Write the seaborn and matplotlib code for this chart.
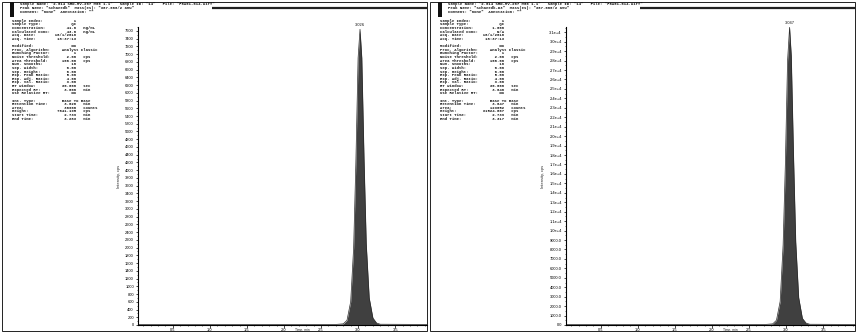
import matplotlib
matplotlib.use("Agg")
import matplotlib.pyplot as plt
import seaborn as sns
import pandas as pd
from matplotlib.ticker import MultipleLocator, FuncFormatter
from matplotlib.patches import Rectangle

# ---------------- data ----------------
time_left = [0.03, 2.70, 2.80, 2.85, 2.90, 2.94, 2.97, 3.00, 3.026, 3.05, 3.08, 3.11, 3.15, 3.20, 3.25, 3.30, 3.93]
intensity_left = [15, 15, 30, 120, 600, 2000, 4200, 6900, 7641, 6900, 4300, 2100, 700, 180, 50, 20, 15]

time_right = [0.03, 2.72, 2.82, 2.87, 2.92, 2.96, 2.99, 3.02, 3.047, 3.07, 3.10, 3.13, 3.17, 3.22, 3.27, 3.32, 3.93]
intensity_right = [60, 60, 120, 500, 2500, 8500, 17000, 28000, 31524, 28500, 18000, 8800, 2900, 700, 200, 80, 60]

peak_labels = ["3.026", "3.047"]

header_left = ['Sample Name: "2.014 SRD-MV-207 M00 1.1"   Sample ID: "14"   File: "F6A01-014.wiff"',
               'Peak Name: "Schaeedk"  Mass(es): "367.000/2 amu"',
               'Comment: "none"  Annotation: ""']
header_right = ['Sample Name: "2.014 SRD-MV-207 M00 1.1"   Sample ID: "14"   File: "F6A01-014.wiff"',
                'Peak Name: "Schaeedk-D3"  Mass(es): "367.000/2 amu"',
                'Comment: "none"  Annotation: ""']

info_labels = ["Sample Index:", "Sample Type:", "Concentration:", "Calculated Conc:", "Acq. Date:",
               "Acq. Time:", "", "Modified:", "Proc. Algorithm:", "Bunching Factor:", "Noise Threshold:",
               "Area Threshold:", "Num. Smooths:", "Sep. Width:", "Sep. Height:", "Exp. Peak Ratio:",
               "Exp. Adj. Ratio:", "Exp. Val. Ratio:", "RT Window:", "Expected RT:", "Use Relative RT:", "",
               "Int. Type:", "Retention Time:", "Area:", "Height:", "Start Time:", "End Time:"]
units_left = ["", "", "ng/mL", "ng/mL", "", "", "", "", "", "", "cps", "cps", "", "", "", "", "", "",
              "sec", "min", "", "", "", "min", "counts", "cps", "min", "min"]
units_right = ["", "", "", "", "", "", "", "", "", "", "cps", "cps", "", "", "", "", "", "",
               "sec", "min", "", "", "", "min", "counts", "cps", "min", "min"]
values_left = ["1", "QC", "41.0", "43.0", "16/1/2018", "18:37:13", "", "No", "Analyst Classic", "1",
               "2.00", "100.00", "10", "0.00", "0.00", "5.00", "4.00", "3.00", "30.000", "3.000", "No", "",
               "Base To Base", "3.026", "30900", "7641.195", "2.739", "3.283"]
values_right = ["1", "QC", "1.000", "N/A", "16/1/2018", "18:37:13", "", "No", "Analyst Classic", "1",
                "2.00", "100.00", "10", "0.00", "0.00", "5.00", "4.00", "3.00", "30.000", "3.040", "No", "",
                "Base To Base", "3.047", "123052", "31524.607", "2.739", "3.317"]

y_ticks_left = list(range(0, 7601, 200))
y_ticks_right = list(range(0, 31001, 1000))
x_ticks = [0.5, 1.0, 1.5, 2.0, 2.5, 3.0, 3.5]

# ---------------- figure ----------------
sns.set_theme(style="white")
plt.rcParams['font.family'] = ['Liberation Sans', 'DejaVu Sans']

W, H = 856, 332
fig = plt.figure(figsize=(W / 100, H / 100), dpi=100)
fig.patch.set_facecolor("white")

bg = fig.add_axes([0, 0, 1, 1])
bg.set_xlim(0, W)
bg.set_ylim(H, 0)
bg.axis("off")

MONO = ['Liberation Mono', 'DejaVu Sans Mono']
FS_TXT = 2.75
FS_TICK = 2.9


def info_line(label, value, unit):
    if not label:
        return ""
    if len(value) > 10:
        s = f"{label:<21}{value}"
    else:
        s = f"{label:<17}{value:>10}"
    if unit:
        s = f"{s:<30}{unit}"
    return s


def draw_panel(off, header, values, units):
    bg.add_patch(Rectangle((off + 2, 1.5), 425, 329, fill=False, lw=0.7, ec="#222222"))
    bg.plot([off + 212, off + 427], [7.5, 7.5], color="#222222", lw=1.6, solid_capstyle="butt")
    bg.add_patch(Rectangle((off + 10, 2), 4.5, 15, color="#111111", lw=0))
    for i, line in enumerate(header):
        bg.text(off + 20, 3.6 + i * 4.4, line, fontsize=FS_TXT, family=MONO, fontweight="bold",
                va="center", ha="left", color="#111111")
    for i, (lab, val, un) in enumerate(zip(info_labels, values, units)):
        s = info_line(lab, val, un)
        if s:
            bg.text(off + 12, 20.7 + i * 3.63, s, fontsize=FS_TXT, family=MONO, fontweight="bold",
                    va="center", ha="left", color="#111111")


draw_panel(0, header_left, values_left, units_left)
draw_panel(428, header_right, values_right, units_right)


def make_axes(x0, x1, ytop, ybot):
    return fig.add_axes([x0 / W, (H - ybot) / H, (x1 - x0) / W, (ybot - ytop) / H])


def style_axes(ax, yticks, ylim, yfmt, yminor):
    ax.set_facecolor("none")
    ax.set_xlim(0.03, 3.93)
    ax.set_ylim(*ylim)
    for s in ["top", "right"]:
        ax.spines[s].set_visible(False)
    for s in ["left", "bottom"]:
        ax.spines[s].set_color("black")
        ax.spines[s].set_linewidth(0.8)
    ax.set_xticks(x_ticks)
    ax.set_xticklabels([f"{v:.1f}" for v in x_ticks])
    ax.xaxis.set_minor_locator(MultipleLocator(0.1))
    ax.set_yticks(yticks)
    ax.yaxis.set_major_formatter(FuncFormatter(yfmt))
    ax.yaxis.set_minor_locator(MultipleLocator(yminor))
    ax.tick_params(axis="both", which="major", direction="out", length=1.8, width=0.5,
                   pad=1.2, labelsize=FS_TICK, colors="black")
    ax.tick_params(axis="x", which="major", pad=0.6)
    ax.tick_params(axis="both", which="minor", direction="out", length=1.0, width=0.4, colors="black")
    ax.tick_params(axis="both", which="both", bottom=True, left=True)
    ax.set_xlabel("Time, min", fontsize=2.4, va="bottom")
    ax.xaxis.set_label_coords(0.57, -6.8 / 298)
    ax.set_ylabel("Intensity, cps", fontsize=FS_TICK, labelpad=3)
    ax.grid(False)


def fmt_left(v, pos):
    return f"{int(round(v))}"


def fmt_right(v, pos):
    if v >= 10000:
        return f"{v / 1e4:.1f}e+4"
    return f"{v:.1f}"


panels = [
    (138, 427, time_left, intensity_left, y_ticks_left, (0, 7700), fmt_left, 100, peak_labels[0]),
    (566, 855, time_right, intensity_right, y_ticks_right, (0, 31560), fmt_right, 500, peak_labels[1]),
]

for x0, x1, t, y, yticks, ylim, yfmt, yminor, plab in panels:
    ax = make_axes(x0, x1, 27, 325)
    df = pd.DataFrame({"Time, min": t, "Intensity, cps": y})
    ax.fill_between(df["Time, min"], df["Intensity, cps"], 0, color="#404040", lw=0)
    sns.lineplot(data=df, x="Time, min", y="Intensity, cps", ax=ax, color="#2a2a2a",
                 lw=0.5, estimator=None, sort=False, legend=False)
    style_axes(ax, yticks, ylim, yfmt, yminor)
    imax = int(df["Intensity, cps"].idxmax())
    ax.annotate(plab, xy=(df["Time, min"][imax], df["Intensity, cps"][imax]), xytext=(0, 1.5),
                textcoords="offset points", ha="center", va="bottom", fontsize=FS_TICK,
                annotation_clip=False, color="#111111")

fig.savefig("out.png", dpi=100, facecolor="white")
